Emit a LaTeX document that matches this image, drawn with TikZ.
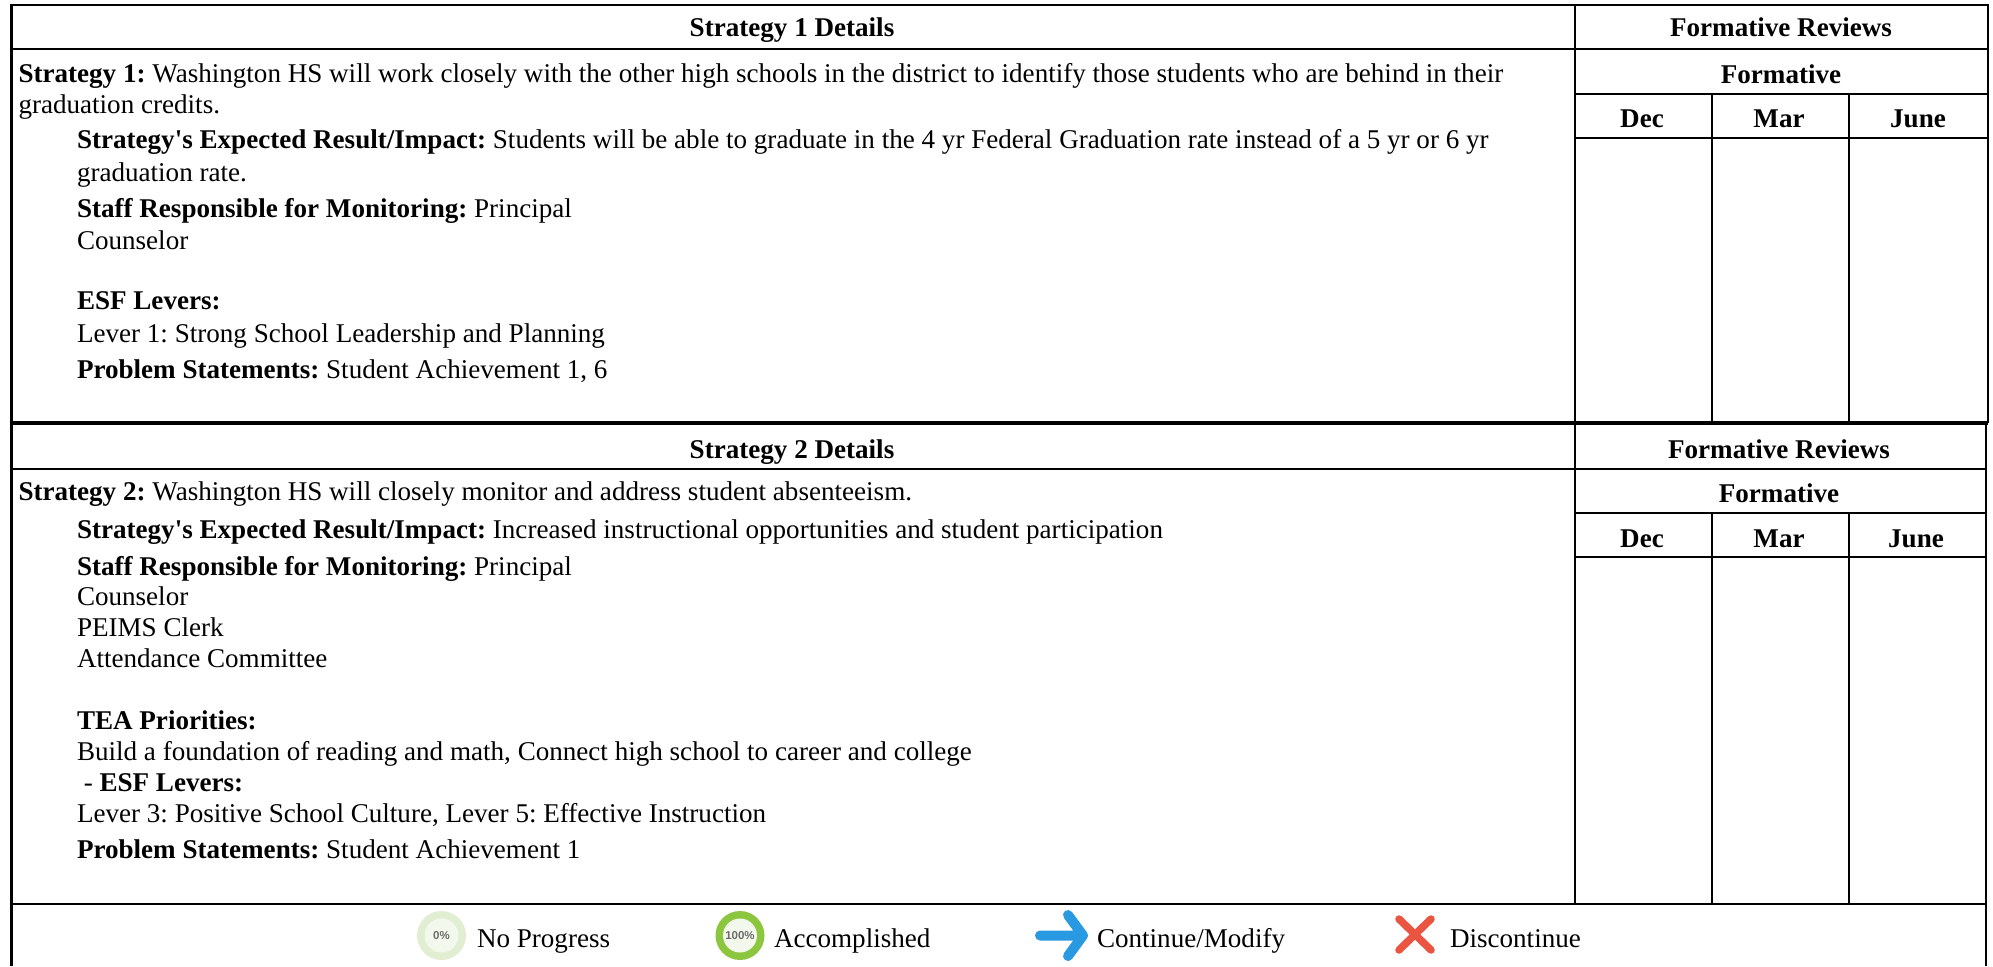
\documentclass[tikz,border=0pt]{standalone}
\usepackage{fontspec}
\setmainfont{Liberation Serif}[Ligatures=TeXOff]
\newfontfamily\iconfont{Liberation Sans}
\begin{document}
\frenchspacing
\begin{tikzpicture}[x=1pt,y=-1pt,
  rule/.style={line width=2.6pt,black},
  thickrule/.style={line width=3.4pt,black},
  txt/.style={anchor=base west,inner sep=0pt,outer sep=0pt,font=\fontsize{27.08}{30}\selectfont},
  hdr/.style={anchor=base,inner sep=0pt,outer sep=0pt,font=\fontsize{27.08}{30}\selectfont\bfseries},
  pct/.style={anchor=center,inner sep=0pt,text=gray!85!black,font=\iconfont\bfseries\fontsize{11.5}{12}\selectfont}]
\definecolor{ringpale}{RGB}{226,238,210}
\definecolor{ringin}{RGB}{242,248,235}
\definecolor{ringgreen}{RGB}{140,198,63}
\definecolor{arrowblue}{RGB}{41,153,226}
\definecolor{crossred}{RGB}{236,84,66}
\useasboundingbox (0,0) rectangle (1993,966);
\fill[white] (0,0) rectangle (1993,966);
% frame, table 1
\draw[rule] (11.5,966) -- (11.5,5) -- (1988,5) -- (1988,423);
\draw[rule] (11,49) -- (1988,49);
\draw[rule] (1575,5) -- (1575,904);
\draw[rule] (1575,94) -- (1988,94);
\draw[rule] (1575,138) -- (1988,138);
\draw[rule] (1712,94) -- (1712,423);
\draw[rule] (1849,94) -- (1849,423);
\draw[thickrule] (11,423) -- (1988,423);
% table 2
\draw[rule] (1986,424) -- (1986,966);
\draw[rule] (11,469) -- (1986,469);
\draw[rule] (1575,513) -- (1986,513);
\draw[rule] (1575,557) -- (1986,557);
\draw[rule] (1712,513) -- (1712,904);
\draw[rule] (1849,513) -- (1849,904);
\draw[rule] (11,904) -- (1986,904);
% headers
\node[hdr] (h1) at (792,37) {Strategy 1 Details};
\node[hdr] (r1) at (1781,37) {Formative Reviews};
\node[hdr] (f1) at (1781,83) {Formative};
\node[hdr] (d1) at (1642,127) {Dec};
\node[hdr] (m1) at (1779,127) {Mar};
\node[hdr] (j1) at (1918,127) {June};
\node[hdr] (h2) at (792,458) {Strategy 2 Details};
\node[hdr] (r2) at (1779,458) {Formative Reviews};
\node[hdr] (f2) at (1779,502) {Formative};
\node[hdr] (d2) at (1642,547) {Dec};
\node[hdr] (m2) at (1779,547) {Mar};
\node[hdr] (j2) at (1916,547) {June};
% strategy 1
\node[txt] (a1) at (18.5,82) {\textbf{Strategy 1:} Washington HS will work closely with the other high schools in the district to identify those students who are behind in their};
\node[txt] (a2) at (18.5,113) {graduation credits.};
\node[txt] (a3) at (77,148) {\textbf{Strategy's Expected Result/Impact:} Students will be able to graduate in the 4 yr Federal Graduation rate instead of a 5 yr or 6 yr};
\node[txt] (a4) at (77,181) {graduation rate.};
\node[txt] (a5) at (77,217) {\textbf{Staff Responsible for Monitoring:} Principal};
\node[txt] (a6) at (77,249) {Counselor};
\node[txt] (a7) at (77,309) {\textbf{ESF Levers:}};
\node[txt] (a8) at (77,342) {Lever 1: Strong School Leadership and Planning};
\node[txt] (a9) at (77,378) {\textbf{Problem Statements:} Student Achievement 1, 6};
% strategy 2
\node[txt] (b1) at (18.5,500.5) {\textbf{Strategy 2:} Washington HS will closely monitor and address student absenteeism.};
\node[txt] (b2) at (77,538.5) {\textbf{Strategy's Expected Result/Impact:} Increased instructional opportunities and student participation};
\node[txt] (b3) at (77,575.5) {\textbf{Staff Responsible for Monitoring:} Principal};
\node[txt] (b4) at (77,605.5) {Counselor};
\node[txt] (b5) at (77,636.5) {PEIMS Clerk};
\node[txt] (b6) at (77,667.5) {Attendance Committee};
\node[txt] (b7) at (77,729.5) {\textbf{TEA Priorities:}};
\node[txt] (b8) at (77,760) {Build a foundation of reading and math, Connect high school to career and college};
\node[txt] (b9) at (77,791) {\ - \textbf{ESF Levers:}};
\node[txt] (b10) at (77,822.5) {Lever 3: Positive School Culture, Lever 5: Effective Instruction};
\node[txt] (b11) at (77,858.5) {\textbf{Problem Statements:} Student Achievement 1};
% legend
\fill[ringpale] (441.5,935.5) circle (24.5);
\fill[ringin] (441.5,935.5) circle (17);
\node[pct] (p0) at (441.5,935.5) {0\%};
\node[txt] (l1) at (477,947) {No Progress};
\fill[ringgreen] (740,935.5) circle (24.5);
\fill[ringin] (740,935.5) circle (17);
\node[pct] (p1) at (740,935.5) {100\%};
\node[txt] (l2) at (774,947) {Accomplished};
\draw[line width=10pt,line cap=round,line join=round,arrowblue]
  (1040,935.5) -- (1081,935.5) (1068,915) -- (1083,935.5) -- (1068,956);
\node[txt] (l3) at (1097,947) {Continue/Modify};
\draw[line width=7.5pt,line cap=round,crossred]
  (1399,919) -- (1431,950) (1431,919) -- (1399,950);
\node[txt] (l4) at (1450,947) {Discontinue};
\end{tikzpicture}
\end{document}
